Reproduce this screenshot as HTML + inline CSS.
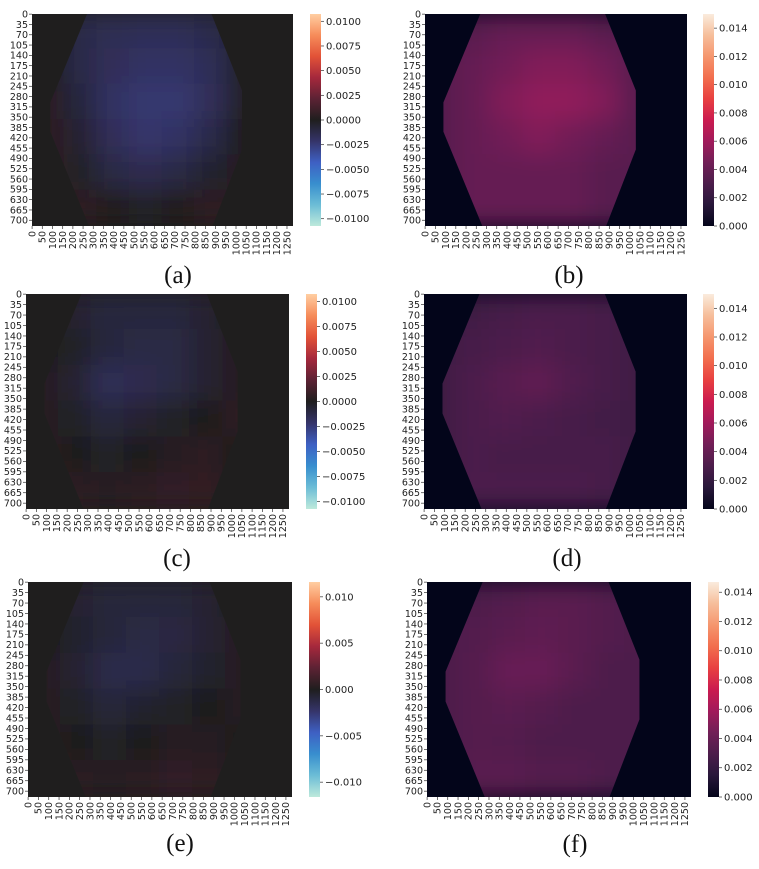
<!DOCTYPE html>
<html><head><meta charset="utf-8"><style>
html,body{margin:0;padding:0;background:#fff;}
svg{display:block;font-family:"DejaVu Sans","Liberation Sans",sans-serif;}
</style></head><body>
<svg id="fig" width="759" height="869" viewBox="0 0 759 869" xmlns="http://www.w3.org/2000/svg">
<defs>
<filter id="soft" x="-10%" y="-10%" width="120%" height="120%"><feGaussianBlur stdDeviation="12"/></filter>
</defs>
</svg>
<script>
// ---- data ----
const yTicks = [0,35,70,105,140,175,210,245,280,315,350,385,420,455,490,525,560,595,630,665,700];
const xTicks = [0,50,100,150,200,250,300,350,400,450,500,550,600,650,700,750,800,850,900,950,1000,1050,1100,1150,1200,1250];
const hexX = [270,880,1030,1030,885,280,90,90];
const hexY = [0,0,260,460,720,720,400,300];
const cbTicksDivA = [0.01,0.0075,0.005,0.0025,0,-0.0025,-0.005,-0.0075,-0.01];
const cbTicksDivE = [0.01,0.005,0,-0.005,-0.01];
const cbTicksSeq = [0.014,0.012,0.010,0.008,0.006,0.004,0.002,0.000];
const gridA = [
[0,-0.0012,-0.0015,-0.0016,-0.0016,-0.0013,-0.0004,0],
[0,-0.0012,-0.0017,-0.002,-0.002,-0.0016,-0.0002,0.0004],
[0.0004,-0.0009,-0.002,-0.0023,-0.0023,-0.0017,-0.0002,0.0005],
[0.0005,-0.0006,-0.0017,-0.0022,-0.002,-0.0012,0,0.0005],
[0.0006,-0.0002,-0.0011,-0.0014,-0.0011,-0.0005,0.0002,0.0004],
[0.0006,0.0005,0.0001,-0.0002,0.0001,0.0005,0.0006,0]];
const gridC = [
[0,-0.0006,-0.0009,-0.0009,-0.0009,-0.0006,0,0],
[0,-0.0003,-0.0009,-0.0011,-0.0011,-0.0006,0.0003,0.0005],
[0.0003,-0.0006,-0.0016,-0.0014,-0.0011,-0.0006,0.0003,0.0005],
[0.0003,-0.0003,-0.0009,-0.0006,-0.0003,0,0.0005,0.0005],
[0.0005,0,-0.0003,0,0.0003,0.0005,0,0],
[0.0005,0.0005,0.0003,0.0005,0.0007,0.0006,0.0003,0]];
const gridE = [
[0,-0.0006,-0.0009,-0.0009,-0.0009,-0.0006,0,0],
[0,-0.0005,-0.0009,-0.0012,-0.0011,-0.0006,0.0003,0.0005],
[0.0003,-0.0006,-0.0014,-0.0014,-0.0009,-0.0005,0.0003,0.0005],
[0.0003,-0.0003,-0.0009,-0.0005,-0.0003,0,0.0003,0.0005],
[0.0005,0,-0.0003,0,0.0003,0.0003,0,0],
[0.0005,0.0005,0.0003,0.0005,0.0007,0.0006,0.0003,0]];
const gridB = [
[0.0035,0.0035,0.004,0.004,0.004,0.0035,0.0035,0],
[0.0035,0.004,0.0045,0.005,0.005,0.0045,0.0035,0.0035],
[0.0035,0.004,0.005,0.0055,0.0055,0.005,0.0035,0.0035],
[0.0035,0.004,0.0045,0.005,0.0045,0.004,0.0035,0.0035],
[0.0035,0.004,0.004,0.004,0.004,0.0035,0.0035,0.0035],
[0.0035,0.004,0.004,0.004,0.004,0.0035,0.0035,0]];
const gridD = [
[0.0025,0.0025,0.0028,0.003,0.003,0.0028,0.0025,0],
[0.0025,0.0028,0.003,0.0032,0.003,0.0028,0.0025,0.0025],
[0.0025,0.003,0.0035,0.0038,0.0032,0.0028,0.0025,0.0025],
[0.0025,0.003,0.0032,0.003,0.0028,0.0026,0.0025,0.0025],
[0.0025,0.003,0.0028,0.0028,0.0028,0.0028,0.0025,0.0025],
[0.0025,0.003,0.003,0.003,0.003,0.0028,0.0025,0]];
const gridF = [
[0.003,0.003,0.0032,0.0035,0.0035,0.0032,0.003,0],
[0.003,0.0032,0.0035,0.0037,0.0035,0.0032,0.003,0.003],
[0.003,0.0033,0.004,0.004,0.0035,0.003,0.003,0.003],
[0.003,0.0033,0.0035,0.0033,0.003,0.003,0.003,0.003],
[0.003,0.0033,0.0032,0.003,0.003,0.003,0.003,0.003],
[0.003,0.0035,0.0035,0.0033,0.0033,0.003,0.003,0]];

// ---- colormaps ----
const ICE = [[189,233,219],[108,189,214],[56,142,206],[62,96,195],[53,52,105],[31,30,30],[92,34,52],[165,40,60],[226,82,55],[246,140,90],[255,206,162]];
const ROCKET = [[3,5,26],[40,23,58],[76,29,75],[113,31,87],[161,26,91],[203,27,79],[232,64,64],[242,110,78],[245,150,110],[246,190,155],[250,235,221]];
function cmap(stops,t){t=Math.max(0,Math.min(1,t));const f=t*(stops.length-1);const i=Math.min(stops.length-2,Math.floor(f));const u=f-i;
 const c=stops[i].map((v,k)=>Math.round(v+(stops[i+1][k]-v)*u));return `rgb(${c[0]},${c[1]},${c[2]})`;}

const NS="http://www.w3.org/2000/svg";
const svg=document.getElementById('fig');
const defs=svg.querySelector('defs');
function el(tag,attrs,parent){const e=document.createElementNS(NS,tag);for(const k in attrs)e.setAttribute(k,attrs[k]);(parent||svg).appendChild(e);return e;}

const panels=[
 {id:'a',grid:gridA,cm:ICE,vmin:-0.01074,vmax:0.01074,x0:32,x1:293,y0:14,y1:226,cbx:310,cbTicks:cbTicksDivA,fmt:4,cap:'(a)',capx:178,capy:283},
 {id:'b',grid:gridB,cm:ROCKET,vmin:0,vmax:0.015,x0:425,x1:687,y0:14,y1:226,cbx:703,cbTicks:cbTicksSeq,fmt:3,cap:'(b)',capx:569,capy:283},
 {id:'c',grid:gridC,cm:ICE,vmin:-0.01074,vmax:0.01074,x0:26,x1:289,y0:294,y1:509,cbx:306,cbTicks:cbTicksDivA,fmt:4,cap:'(c)',capx:177,capy:566},
 {id:'d',grid:gridD,cm:ROCKET,vmin:0,vmax:0.015,x0:424,x1:687,y0:294,y1:509,cbx:703,cbTicks:cbTicksSeq,fmt:3,cap:'(d)',capx:567,capy:566},
 {id:'e',grid:gridE,cm:ICE,vmin:-0.0116,vmax:0.0116,x0:28,x1:292,y0:582,y1:797,cbx:309,cbTicks:cbTicksDivE,fmt:3,cap:'(e)',capx:180,capy:851},
 {id:'f',grid:gridF,cm:ROCKET,vmin:0,vmax:0.0147,x0:427,x1:691,y0:582,y1:797,cbx:708,cbTicks:cbTicksSeq,fmt:3,cap:'(f)',capx:575,capy:852}
];

panels.forEach(p=>{
 const g=el('g',{});
 
 
 const W=p.x1-p.x0,H=p.y1-p.y0;
 const sx=v=>p.x0+v/1280*W, sy=v=>p.y0+v/720*H;
 const norm=v=>(v-p.vmin)/(p.vmax-p.vmin);
 const bg=el('rect',{x:p.x0,y:p.y0,width:W,height:H,fill:cmap(p.cm,norm(0))},g);
 
 
 const cp=el('clipPath',{id:'clip'+p.id},defs);
 el('polygon',{points:hexX.map((x,i)=>sx(x)+','+sy(hexY[i])).join(' ')},cp);
 const outer=el('g',{'clip-path':'url(#clip'+p.id+')'},g);
 const cells=el('g',{filter:'url(#soft)'},outer);
 const R=p.grid.length,C=p.grid[0].length;
 p.grid.forEach((row,r)=>row.forEach((v,c)=>{
  const cell=el('rect',{x:sx(c*1280/C)-1,y:sy(r*720/R)-1,width:W/C+2,height:H/R+2,fill:cmap(p.cm,norm(v))},cells);
  
  
 }));
 yTicks.forEach(t=>{
  const y=sy(t+0.5);
  el('line',{x1:p.x0-3,x2:p.x0,y1:y,y2:y,stroke:'#333','stroke-width':0.7},g);
  const tx=el('text',{x:p.x0-4,y:y+3.3,'font-size':9.5,'text-anchor':'end',fill:'#222'},g);
  tx.textContent=t;
  
  
 });
 xTicks.forEach(t=>{
  const x=sx(t+0.5);
  el('line',{x1:x,x2:x,y1:p.y1,y2:p.y1+3,stroke:'#333','stroke-width':0.7},g);
  const tx=el('text',{x:0,y:0,'font-size':9.5,'text-anchor':'end',fill:'#222',transform:`translate(${x+3.3},${p.y1+5}) rotate(-90)`},g);
  tx.textContent=t;
  
  
 });
 const gid='grad'+p.id;
 const lg=el('linearGradient',{id:gid,x1:0,y1:1,x2:0,y2:0},defs);
 for(let i=0;i<=20;i++){el('stop',{offset:i/20,'stop-color':cmap(p.cm,i/20)},lg);}
 const cb=el('rect',{x:p.cbx,y:p.y0,width:11,height:H,fill:'url(#'+gid+')'},g);
 
 
 const cy=v=>p.y1-(v-p.vmin)/(p.vmax-p.vmin)*H;
 p.cbTicks.forEach(t=>{
  const y=cy(t);
  el('line',{x1:p.cbx+11,x2:p.cbx+14,y1:y,y2:y,stroke:'#333','stroke-width':0.7},g);
  const tx=el('text',{x:p.cbx+16,y:y+3.5,'font-size':10,fill:'#222'},g);
  tx.textContent=(t<0?'\u2212':'')+Math.abs(t).toFixed(p.fmt);
  
  
 });
 const cap=el('text',{x:p.capx,y:p.capy,'font-size':25,'text-anchor':'middle',fill:'#111','font-family':'"Liberation Serif",serif'},g);
 cap.textContent=p.cap;
 
 
});
</script>
</body></html>
